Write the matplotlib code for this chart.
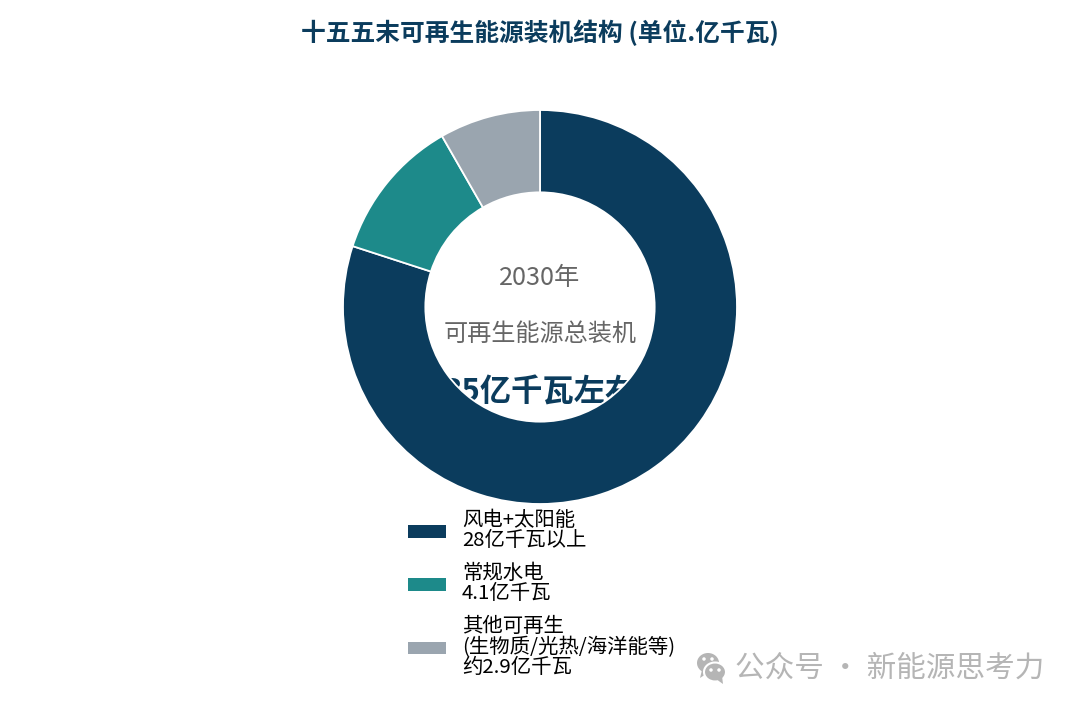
import matplotlib
matplotlib.use('Agg')
import matplotlib.pyplot as plt
from matplotlib.patches import Ellipse, Polygon

plt.rcParams['font.family'] = ['Noto Sans CJK SC', 'DejaVu Sans']

labels = ['风电+太阳能\n28亿千瓦以上', '常规水电\n4.1亿千瓦', '其他可再生\n(生物质/光热/海洋能等)\n约2.9亿千瓦']
values = [28, 4.1, 2.9]
colors = ['#0B3C5D', '#1D8A8A', '#9AA5AF']

W, H = 1080, 711
fig = plt.figure(figsize=(W / 100, H / 100), dpi=100, facecolor='white')

# donut: centre (540, 307), radius 197 px
ax = fig.add_axes([343 / W, 1 - 504 / H, 394 / W, 394 / H])
wedges, _ = ax.pie(values, colors=colors, startangle=90, counterclock=False, radius=1,
                   wedgeprops=dict(width=0.418, edgecolor='white', linewidth=1.3))
for w in wedges:
    w.set_zorder(5)
ax.set_xlim(-1, 1)
ax.set_ylim(-1, 1)
ax.set_aspect('equal')
ax.axis('off')

# centre text sits behind the ring, so the long line gets cut off
ax.text(0, 0.148, '2030年', ha='center', va='center', fontsize=18.2, color='#666666', zorder=1)
ax.text(0, -0.135, '可再生能源总装机', ha='center', va='center', fontsize=17.4, color='#666666', zorder=1)
ax.text(0, -0.435, '35亿千瓦左右', ha='center', va='center', fontsize=22.5, fontweight='bold',
        color='#0B3C5D', zorder=1)

fig.text(540 / W, 1 - 33 / H, '十五五末可再生能源装机结构 (单位.亿千瓦)', ha='center', va='center',
         fontsize=17.8, fontweight='bold', color='#0B3C5D')

leg = fig.legend(wedges, labels, loc='upper left', bbox_to_anchor=(403 / W, 1 - 505 / H),
                 frameon=False, fontsize=14.7, handlelength=1.86, handleheight=0.54,
                 handletextpad=0.78, labelspacing=0.57, borderpad=0.25, borderaxespad=0)
for t in leg.get_texts():
    t.set_linespacing(0.96)
for h in leg.legend_handles:
    h.set_edgecolor('none')

# wechat watermark, drawn in pixel coordinates
wm = fig.add_axes([0, 0, 1, 1], facecolor='none')
wm.set_xlim(0, W)
wm.set_ylim(H, 0)
wm.axis('off')
grey = '#B5B5B5'
wm.add_patch(Ellipse((708, 663), 22, 20, fc=grey, ec='none'))
wm.add_patch(Polygon([(702, 670), (700, 678), (709, 672)], fc=grey, ec='none'))
wm.add_patch(Ellipse((715, 672), 22, 19, fc=grey, ec='white', lw=1.5))
wm.add_patch(Polygon([(716, 679), (723, 684), (722, 676)], fc=grey, ec='none'))
for x, y in [(704, 659), (712, 659), (711, 670), (719, 670)]:
    wm.add_patch(Ellipse((x, y), 3.5, 3.5, fc='white', ec='none'))
wm.text(735, 668, '公众号 · 新能源思考力', ha='left', va='center', fontsize=21.3, color=grey)

fig.savefig('out.png', dpi=100)
